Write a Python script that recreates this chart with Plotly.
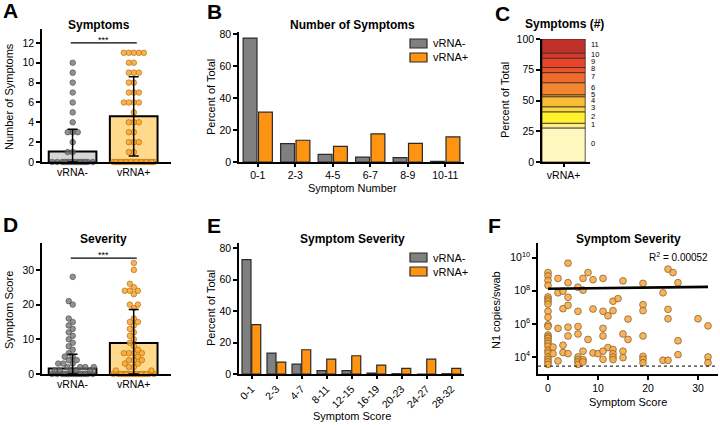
import numpy as np
import plotly.graph_objects as go

W, H = 720, 425
FONT = "Arial, 'Liberation Sans', Helvetica, sans-serif"

# ---------------- data ----------------
groups = ["vRNA-", "vRNA+"]

# Panel A: number of symptoms (dot levels and how many dots per level)
symptom_levels = [0, 1, 2, 3, 4, 5, 6, 7, 8, 9, 10, 11]
symptom_dots_neg = [14, 2, 1, 3, 1, 1, 1, 1, 1, 1, 1, 0]
symptom_dots_pos = [17, 2, 3, 2, 3, 1, 4, 3, 2, 3, 2, 5]
symptom_mean = [1.05, 4.6]
symptom_sd = [2.25, 4.0]
symptom_sig_level = 12.0

# Panel B: distribution of number of symptoms (% of total)
number_bins = ["0-1", "2-3", "4-5", "6-7", "8-9", "10-11"]
number_pct_neg = [77.5, 11.5, 4.8, 3.1, 2.7, 0.4]
number_pct_pos = [31.2, 13.6, 9.8, 17.6, 11.7, 15.7]

# Panel C: vRNA+ symptom count composition (% of total)
count_labels = ["0", "1", "2", "3", "4", "5", "6", "7", "8", "9", "10", "11"]
count_pct_pos = [27.7, 3.8, 9.3, 4.1, 8.2, 1.6, 9.8, 8.2, 4.1, 7.6, 4.1, 11.5]
count_colors = ["#FFF8BE", "#FBEE8C", "#FFF22E", "#F9D844", "#F8BC36", "#F5A836",
                "#F2852D", "#EE6A2D", "#EA562C", "#E8442D", "#D8382C", "#BF3129"]

# Panel D: symptom score per participant
severity_neg = [0, 0, 0, 0, 0, 0, 0, 0, 0, 0, 0, 0, 0, 0, 1, 1, 1, 1, 1, 2, 2, 2, 2,
                3, 3, 3, 4, 4, 5, 5, 6, 7, 8, 9, 10, 11, 12, 13, 14, 15, 16, 20, 21, 28]
severity_pos = [0, 0, 0, 0, 0, 0, 0, 0, 0, 0, 0, 0, 0, 0, 0, 1, 1, 2, 2, 3, 3, 4, 4, 4,
                5, 6, 6, 6, 6, 7, 8, 9, 10, 11, 12, 13, 14, 15, 15, 16, 19, 20, 20, 23,
                24, 24, 24, 25, 26, 30, 32]
severity_mean = [1.6, 8.9]
severity_sd = [4.1, 9.7]
severity_sig_level = 33.4

# Panel E: distribution of symptom score (% of total)
severity_bins = ["0-1", "2-3", "4-7", "8-11", "12-15", "16-19", "20-23", "24-27", "28-32"]
severity_pct_neg = [72.6, 13.3, 6.3, 2.1, 2.1, 0.6, 0.2, 0.0, 0.2]
severity_pct_pos = [31.3, 7.6, 15.4, 9.5, 11.6, 5.7, 3.6, 9.5, 3.6]

# Panel F: symptom score vs N1 copies/swab (log10 copies)
f_score = [0, 0, 0, 0, 0, 0, 0, 0, 0, 0, 0, 0, 0, 0, 0, 0, 0, 0, 0, 0, 0, 0, 0, 0,
           1, 1, 2, 2, 2, 2, 3, 3, 3, 3, 4, 4, 4, 4, 4, 4, 4,
           6, 6, 6, 6, 6, 6, 6, 6, 7, 7, 7, 7, 7, 8, 8, 9, 9, 9, 10,
           11, 11, 11, 11, 11, 11, 12, 12, 13, 13, 13, 13, 13, 13, 14,
           15, 15, 15, 15, 16, 16, 19, 19, 19, 19, 19, 19, 19, 23, 23,
           24, 24, 24, 24, 25, 26, 26, 26, 30, 32, 32, 32]
f_log_copies = [9.1, 8.9, 8.63, 8.33, 7.63, 7.5, 7.37, 7.2, 6.76, 6.4, 5.94, 5.84, 5.33, 5.22,
                5.12, 4.96, 4.82, 4.65, 4.4, 4.24, 4.0, 3.84, 3.7, 3.55,
                4.6, 4.2, 8.75, 7.88, 5.73, 3.76, 7.98, 6.92, 4.71, 4.27,
                9.67, 8.49, 7.61, 7.12, 5.8, 5.27, 4.2,
                8.22, 6.76, 5.84, 5.39, 4.0, 3.84, 3.7, 3.55, 8.75, 8.04, 4.35, 3.84, 3.7,
                9.1, 5.06, 8.67, 6.9, 4.24, 4.2,
                8.75, 6.76, 5.73, 5.27, 4.35, 3.86, 6.49, 4.57, 7.37, 6.8, 4.45, 4.2, 4.0, 3.84, 7.53,
                8.6, 5.39, 4.35, 3.96, 6.29, 5.06, 8.45, 7.16, 6.8, 5.27, 4.04, 3.86, 3.65, 7.88, 3.8,
                9.31, 6.88, 6.31, 3.8, 9.1, 8.49, 4.98, 4.14, 6.31, 5.88, 4.0, 3.65]
fit_intercept = 1.32e8
fit_slope = 1.3e6
r2_text = "R<sup>2</sup> = 0.00052"
detection_limit = 2.8e3

assert len(f_score) == len(f_log_copies)

# ---------------- helpers ----------------
GRAY_BAR = "#808080"
ORANGE_BAR = "#FF9412"
EDGE = "#2b2b2b"


def px_x(p):
    return p / W


def px_y(p):
    return 1 - p / H


def swarm_offsets(values, ppu_y, ppu_x, diam, half_width):
    vals = np.asarray(values, float)
    ypx = vals * ppu_y
    lim = half_width * ppu_x
    cands = np.arange(-lim, lim + 1e-9, 0.5)
    cands = cands[np.lexsort((cands, np.abs(cands)))]
    pxs, pys = [], []
    out = np.zeros(len(vals))
    for i in np.argsort(vals, kind="stable"):
        if pxs:
            dx = cands[:, None] - np.array(pxs)[None, :]
            dy = ypx[i] - np.array(pys)[None, :]
            dmin = np.sqrt(dx ** 2 + dy ** 2).min(axis=1)
            ok = np.nonzero(dmin >= diam)[0]
            c = cands[ok[0]] if len(ok) else cands[np.argmax(dmin)]
        else:
            c = 0.0
        pxs.append(c)
        pys.append(ypx[i])
        out[i] = c / ppu_x
    return out


def axis_style(**kw):
    d = dict(showline=True, linecolor="black", linewidth=1.5, ticks="outside", ticklen=4,
             tickwidth=1.5, tickcolor="black", showgrid=False, zeroline=False,
             automargin=False,
             tickfont=dict(family=FONT, size=10.5, color="black"), fixedrange=True)
    d.update(kw)
    return d


fig = go.Figure()

# ---------------- Panel A & D (bar + dots + SD) ----------------
dot_style = [
    dict(color="rgba(110,110,110,0.75)", line=dict(color="#474747", width=0.6)),
    dict(color="rgba(250,165,45,0.85)", line=dict(color="#a8670f", width=0.6)),
]
bar_fill = ["#D6D6D6", "#FFD98C"]
PPU_X = 61.0


def dot_panel(xa, ya, values_by_group, means, sds, ppu_y):
    fig.add_trace(go.Bar(x=[0, 1], y=means, width=0.78, xaxis=xa, yaxis=ya,
                         marker=dict(color=bar_fill, line=dict(color="black", width=2)),
                         hoverinfo="skip"))
    for g, vals in enumerate(values_by_group):
        offs = swarm_offsets(vals, ppu_y, PPU_X, 5.0, 0.35)
        fig.add_trace(go.Scatter(x=g + offs, y=vals, mode="markers", xaxis=xa, yaxis=ya,
                                 cliponaxis=False,
                                 marker=dict(size=5.6, **dot_style[g])))
    fig.add_trace(go.Scatter(x=[0, 1], y=means, mode="markers", xaxis=xa, yaxis=ya,
                             marker=dict(size=1, opacity=0),
                             error_y=dict(type="data", array=sds,
                                          arrayminus=[min(s, m) for s, m in zip(sds, means)],
                                          color="black", thickness=1.5, width=5)))


sym_neg_vals = np.repeat(symptom_levels, symptom_dots_neg)
sym_pos_vals = np.repeat(symptom_levels, symptom_dots_pos)
dot_panel("x", "y", [sym_neg_vals, sym_pos_vals], symptom_mean, symptom_sd, 9.92)
dot_panel("x4", "y4", [severity_neg, severity_pos], severity_mean, severity_sd, 3.47)


# ---------------- Panel B & E (grouped histograms) ----------------
def hist_panel(xa, ya, bins, neg, pos, width, off_neg, off_pos):
    idx = list(range(len(bins)))
    fig.add_trace(go.Bar(x=idx, y=neg, width=width, offset=off_neg, xaxis=xa, yaxis=ya,
                         marker=dict(color=GRAY_BAR, line=dict(color=EDGE, width=1.2))))
    fig.add_trace(go.Bar(x=idx, y=pos, width=width, offset=off_pos, xaxis=xa, yaxis=ya,
                         marker=dict(color=ORANGE_BAR, line=dict(color=EDGE, width=1.2))))


hist_panel("x2", "y2", number_bins, number_pct_neg, number_pct_pos, 0.37, -0.39, 0.02)
hist_panel("x5", "y5", severity_bins, severity_pct_neg, severity_pct_pos, 0.36, -0.38, 0.01)

# ---------------- Panel C (stacked composition) ----------------
cum = np.concatenate([[0], np.cumsum(count_pct_pos)])
for i, pct in enumerate(count_pct_pos):
    fig.add_trace(go.Bar(x=[0], y=[pct], base=[cum[i]], width=0.9, offset=-0.45,
                         xaxis="x3", yaxis="y3",
                         marker=dict(color=count_colors[i], line=dict(color="#3a2a20", width=0.8))))

# ---------------- Panel F (scatter + fit) ----------------
f_copies = np.power(10.0, f_log_copies)
fig.add_trace(go.Scatter(x=f_score, y=f_copies, mode="markers", xaxis="x6", yaxis="y6",
                         cliponaxis=False,
                         marker=dict(size=6.8, color="rgba(247,166,62,0.85)",
                                     line=dict(color="#7a5a2a", width=0.7))))
fit_x = np.linspace(min(f_score), max(f_score), 60)
fig.add_trace(go.Scatter(x=fit_x, y=fit_intercept + fit_slope * fit_x, mode="lines",
                         xaxis="x6", yaxis="y6", line=dict(color="black", width=2.6)))


# ---------------- layout ----------------
def dom_x(a, b):
    return [px_x(a), px_x(b)]


def dom_y(top, bottom):
    return [px_y(bottom), px_y(top)]


layout = dict(
    width=W, height=H, margin=dict(l=0, r=0, t=0, b=0, autoexpand=False),
    paper_bgcolor="white", plot_bgcolor="white", showlegend=False,
    font=dict(family=FONT, color="black"),
    barmode="overlay",
    xaxis=axis_style(domain=dom_x(42, 171), range=[-0.5, 1.61], anchor="y",
                     tickvals=[0, 1], ticktext=groups, ticks=""),
    yaxis=axis_style(domain=dom_y(29, 162), range=[0, 13.4], anchor="x",
                     tickvals=[0, 2, 4, 6, 8, 10, 12]),
    xaxis2=axis_style(domain=dom_x(239, 464), range=[-0.5, 5.5], anchor="y2",
                      tickvals=list(range(len(number_bins))), ticktext=number_bins, ticklen=3),
    yaxis2=axis_style(domain=dom_y(32, 162), range=[0, 81.3], anchor="x2",
                      tickvals=[0, 20, 40, 60, 80]),
    xaxis3=axis_style(domain=dom_x(542, 590), range=[-0.45, 0.55], anchor="y3",
                      tickvals=[0], ticktext=["vRNA+"], ticklen=3),
    yaxis3=axis_style(domain=dom_y(39, 162), range=[0, 100], anchor="x3",
                      tickvals=[0, 25, 50, 75, 100]),
    xaxis4=axis_style(domain=dom_x(42, 171), range=[-0.5, 1.61], anchor="y4",
                      tickvals=[0, 1], ticktext=groups, ticks=""),
    yaxis4=axis_style(domain=dom_y(243, 374), range=[0, 37.75], anchor="x4",
                      tickvals=[0, 10, 20, 30]),
    xaxis5=axis_style(domain=dom_x(239, 464), range=[-0.5, 8.5], anchor="y5",
                      tickvals=list(range(len(severity_bins))), ticktext=severity_bins,
                      tickangle=-45, ticklen=3),
    yaxis5=axis_style(domain=dom_y(243, 374), range=[0, 83.2], anchor="x5",
                      tickvals=[0, 20, 40, 60, 80]),
    xaxis6=axis_style(domain=dom_x(538, 718), range=[-2, 34], anchor="y6",
                      tickvals=[0, 10, 20, 30]),
    yaxis6=axis_style(domain=dom_y(243, 374), type="log", range=[2.97, 10.89], anchor="x6",
                      tickvals=[1e4, 1e6, 1e8, 1e10],
                      ticktext=["10<sup>4</sup>", "10<sup>6</sup>", "10<sup>8</sup>", "10<sup>10</sup>"]),
)

annotations = []


def text(px, py, s, size=11, bold=False, angle=0, xanchor="center"):
    annotations.append(dict(xref="paper", yref="paper", x=px_x(px), y=px_y(py),
                            text=f"<b>{s}</b>" if bold else s, showarrow=False,
                            textangle=angle, xanchor=xanchor, yanchor="middle",
                            font=dict(family=FONT, size=size, color="black")))


# panel letters
for letter, (lx, ly) in {"A": (10, 11), "B": (214, 12), "C": (502, 13),
                         "D": (10, 224), "E": (214, 225), "F": (494, 225)}.items():
    text(lx, ly, letter, size=21, bold=True)

# titles
text(99, 25, "Symptoms", size=12, bold=True)
text(352, 25, "Number of Symptoms", size=12, bold=True)
text(564, 24, "Symptoms (#)", size=12, bold=True)
text(103, 239, "Severity", size=12, bold=True)
text(352, 239, "Symptom Severity", size=12, bold=True)
text(628, 239, "Symptom Severity", size=12, bold=True)

# axis titles
text(9, 97, "Number of Symptoms", angle=-90)
text(211, 97, "Percent of Total", angle=-90)
text(505, 100, "Percent of Total", angle=-90)
text(9, 310, "Symptom Score", angle=-90)
text(211, 308, "Percent of Total", angle=-90)
text(496, 310, "N1 copies/swab", angle=-90)
text(352, 188, "Symptom Number")
text(352, 416, "Symptom Score")
text(628, 402, "Symptom Score")

# R^2
text(678, 257, r2_text, size=10)

# legends (B and E)
shapes = []
for (y_neg, y_pos) in [(43.5, 57.5), (257.5, 271.5)]:
    for yy, col, lab in [(y_neg, GRAY_BAR, groups[0]), (y_pos, ORANGE_BAR, groups[1])]:
        shapes.append(dict(type="rect", xref="paper", yref="paper",
                           x0=px_x(410), x1=px_x(427), y0=px_y(yy + 4.5), y1=px_y(yy - 4.5),
                           fillcolor=col, line=dict(color=EDGE, width=1.2)))
        text(431, yy, lab, size=11, xanchor="left")

# significance bars
for xa, ya, ylev in [("x", "y", symptom_sig_level), ("x4", "y4", severity_sig_level)]:
    shapes.append(dict(type="line", xref=xa, yref=ya, x0=-0.03, x1=1.05, y0=ylev, y1=ylev,
                       line=dict(color="black", width=1.2)))
    annotations.append(dict(xref=xa, yref=ya, x=0.51, y=ylev, text="***", showarrow=False,
                            yanchor="bottom", yshift=-4,
                            font=dict(family=FONT, size=9, color="black")))

# segment labels for C
for i, lab in enumerate(count_labels):
    mid = (cum[i] + cum[i + 1]) / 2
    annotations.append(dict(xref="x3", yref="y3", x=0.5, y=mid, text=lab, showarrow=False,
                            xanchor="left", yanchor="middle", xshift=1, yshift=1.5,
                            font=dict(family=FONT, size=7.5, color="black")))

# detection limit (dotted)
shapes.append(dict(type="line", xref="x6 domain", yref="y6", x0=0, x1=1,
                   y0=detection_limit, y1=detection_limit,
                   line=dict(color="#333333", width=1.2, dash="dot")))

layout["annotations"] = annotations
layout["shapes"] = shapes
fig.update_layout(**layout)

fig.write_html("out.html", config={"displayModeBar": False},
               post_script="document.body.style.margin='0';")
